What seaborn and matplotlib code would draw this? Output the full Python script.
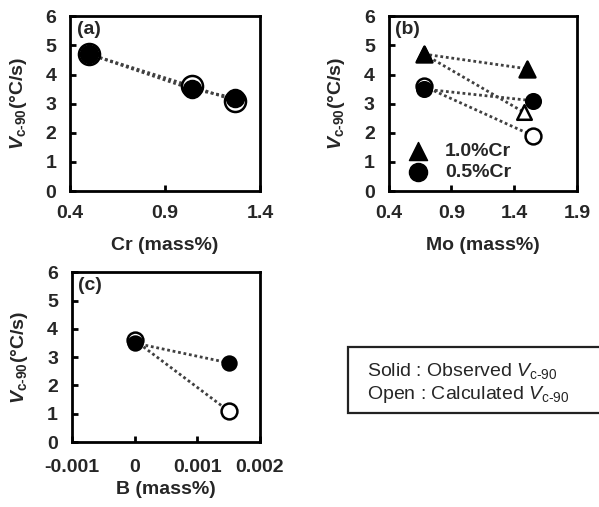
import numpy as np
import pandas as pd
import matplotlib
matplotlib.use("Agg")
import matplotlib.pyplot as plt
from matplotlib.patches import Rectangle
import seaborn as sns

sns.set_theme(style="white")
plt.rcParams['font.family'] = ['Liberation Sans', 'DejaVu Sans']
plt.rcParams['mathtext.fontset'] = 'custom'
plt.rcParams['mathtext.rm'] = 'Liberation Sans'
plt.rcParams['mathtext.it'] = 'Liberation Sans:italic'
plt.rcParams['mathtext.bf'] = 'Liberation Sans:bold:italic'
plt.rcParams['mathtext.sf'] = 'Liberation Sans:bold'

# (a) Cr
cr = [0.50, 1.04, 1.27]
cr_obs = [4.7, 3.5, 3.2]
cr_calc = [4.7, 3.6, 3.1]

# (b) Mo, 1.0%Cr (triangles) and 0.5%Cr (circles)
mo_tri_obs_x = [0.68, 1.50]
mo_tri_obs = [4.7, 4.2]
mo_tri_calc_x = [0.68, 1.48]
mo_tri_calc = [4.7, 2.7]
mo_cir_x = [0.68, 1.55]
mo_cir_obs = [3.5, 3.1]
mo_cir_calc = [3.6, 1.9]

# (c) B
b = [0.0, 0.0015]
b_obs = [3.5, 2.8]
b_calc = [3.6, 1.1]
b_ticks = [-0.001, 0, 0.001, 0.002]

ylab = r'$\mathbf{V}_{\mathsf{c‐90}}$(°C/s)'
line_kw = dict(color='#404040', linestyle=(0, (1, 1)), linewidth=2, sort=False, legend=False)


def style_axes(ax, xlim, xticks, xlabel, tag, xpad=10, xlabelpad=5):
    ax.set_xlim(*xlim)
    ax.set_ylim(0, 6)
    ax.set_xticks(xticks)
    ax.set_yticks(range(0, 7))
    for s in ax.spines.values():
        s.set_color('black')
        s.set_linewidth(2)
    ax.tick_params(axis='x', direction='in', length=4, width=2, color='black',
                   labelsize=14, pad=xpad, bottom=True)
    ax.tick_params(axis='y', direction='in', length=4, width=2, color='black',
                   labelsize=14, pad=10, left=True)
    for t in ax.get_xticklabels() + ax.get_yticklabels():
        t.set_fontweight('bold')
    ax.set_xlabel(xlabel, fontsize=14, fontweight='bold', labelpad=xlabelpad)
    ax.set_ylabel(ylab, fontsize=14, fontweight='bold', labelpad=12)
    ax.text(0.035, 0.975, tag, transform=ax.transAxes, fontsize=14, fontweight='bold',
            va='top', ha='left')


def pair(ax, x, y, marker, filled, size):
    df = pd.DataFrame({'x': x, 'y': y})
    sns.scatterplot(data=df, x='x', y='y', ax=ax, marker=marker, s=size,
                    facecolor='black' if filled else 'white', edgecolor='black',
                    linewidth=1.8, zorder=3, legend=False)


fig = plt.figure(figsize=(5.99, 5.07), dpi=100)
ax_a = fig.add_axes([0.117, 0.623, 0.317, 0.345])
ax_b = fig.add_axes([0.649, 0.623, 0.314, 0.345])
ax_c = fig.add_axes([0.120, 0.128, 0.314, 0.335])

# (a)
sns.lineplot(x=cr, y=cr_obs, ax=ax_a, **line_kw)
sns.lineplot(x=cr, y=cr_calc, ax=ax_a, **line_kw)
pair(ax_a, cr, cr_calc, 'o', False, 230)
pair(ax_a, cr, cr_obs, 'o', True, 150)
style_axes(ax_a, (0.4, 1.4), [0.4, 0.9, 1.4], 'Cr (mass%)', '(a)', xlabelpad=11)

# (b)
sns.lineplot(x=mo_tri_obs_x, y=mo_tri_obs, ax=ax_b, **line_kw)
sns.lineplot(x=mo_tri_calc_x, y=mo_tri_calc, ax=ax_b, **line_kw)
sns.lineplot(x=mo_cir_x, y=mo_cir_obs, ax=ax_b, **line_kw)
sns.lineplot(x=mo_cir_x, y=mo_cir_calc, ax=ax_b, **line_kw)
pair(ax_b, mo_tri_calc_x, mo_tri_calc, '^', False, 110)
pair(ax_b, mo_tri_obs_x, mo_tri_obs, '^', True, 130)
pair(ax_b, mo_cir_x, mo_cir_calc, 'o', False, 130)
pair(ax_b, mo_cir_x, mo_cir_obs, 'o', True, 110)
style_axes(ax_b, (0.4, 1.9), [0.4, 0.9, 1.4, 1.9], 'Mo (mass%)', '(b)', xlabelpad=11)
ax_b.scatter([], [], marker='^', s=170, color='black', label='1.0%Cr')
ax_b.scatter([], [], marker='o', s=170, color='black', label='0.5%Cr')
leg = ax_b.legend(loc='lower left', frameon=False, prop={'weight': 'bold', 'size': 14},
                  handletextpad=0.4, borderaxespad=0.1, labelspacing=0.2)

# (c)
sns.lineplot(x=b, y=b_obs, ax=ax_c, **line_kw)
sns.lineplot(x=b, y=b_calc, ax=ax_c, **line_kw)
pair(ax_c, b, b_calc, 'o', False, 130)
pair(ax_c, b, b_obs, 'o', True, 100)
style_axes(ax_c, (-0.001, 0.002), b_ticks, 'B (mass%)', '(c)', xpad=12, xlabelpad=4)
ax_c.set_xticklabels(['%g' % v for v in b_ticks], fontweight='bold')

# note box
fig.patches.append(Rectangle((0.581, 0.185), 0.45, 0.130, transform=fig.transFigure,
                             facecolor='white', edgecolor='#222222', linewidth=1.6))
fig.text(0.613, 0.268, 'Solid : Observed $V_{\\mathrm{c‐90}}$', fontsize=14,
         va='center', ha='left')
fig.text(0.613, 0.221, 'Open : Calculated $V_{\\mathrm{c‐90}}$', fontsize=14,
         va='center', ha='left')

fig.savefig('out.png', dpi=100)
